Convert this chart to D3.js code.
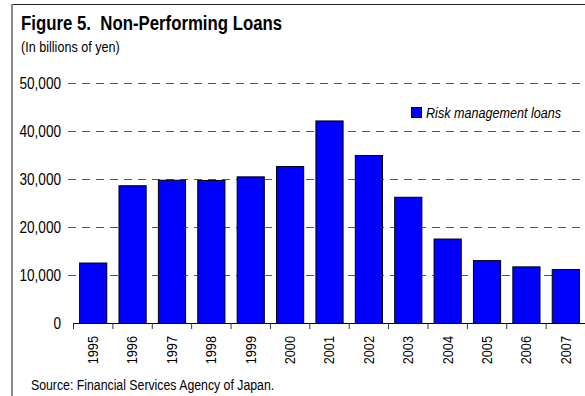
<!DOCTYPE html>
<html>
<head>
<meta charset="utf-8">
<script src="https://cdn.jsdelivr.net/npm/d3@7"></script>
<style>
  html, body { margin: 0; padding: 0; background: #fff; }
  svg { display: block; }
  text { font-family: "Liberation Sans", Arial, sans-serif; fill: #000; }
</style>
</head>
<body>
<svg id="chart" width="585" height="396"></svg>
<script>
// Non-performing loans, risk management loans, billions of yen
const years = ["1995","1996","1997","1998","1999","2000","2001","2002","2003","2004","2005","2006","2007"];
const riskLoans = [12600, 28700, 29850, 29800, 30550, 32700, 42200, 35000, 26300, 17600, 13100, 11800, 11250];
const yTicks = [0, 10000, 20000, 30000, 40000, 50000];

const titleText = "Figure 5.  Non-Performing Loans";
const subtitleText = "(In billions of yen)";
const legendText = "Risk management loans";
const sourceText = "Source: Financial Services Agency of Japan.";

const svg = d3.select("#chart");
const W = 585, H = 396;

// condensed text: a regular sans face squeezed horizontally
function label(parent, transform, str, opts) {
  const o = Object.assign({ size: 14, weight: "normal", style: "normal", anchor: "start", sx: 0.82, dy: null }, opts);
  const g = parent.append("g").attr("transform", `${transform} scale(${o.sx},1)`);
  const t = g.append("text")
    .attr("font-size", o.size)
    .attr("font-weight", o.weight)
    .attr("font-style", o.style)
    .attr("text-anchor", o.anchor)
    .style("white-space", "pre")
    .text(str);
  if (o.dy) t.attr("dy", o.dy);
  return g;
}

// outer frame: dark top rule, grey left rule
svg.append("line").attr("x1", 12).attr("x2", W).attr("y1", 4.5).attr("y2", 4.5)
  .attr("stroke", "#222").attr("stroke-width", 1.2);
svg.append("line").attr("x1", 12).attr("x2", 12).attr("y1", 4).attr("y2", H)
  .attr("stroke", "#888").attr("stroke-width", 2);

label(svg, "translate(21,30)", titleText, { size: 21, weight: "bold", sx: 0.8 });
label(svg, "translate(21,52)", subtitleText, { size: 15, sx: 0.84 });

const plot = { left: 73, right: 585, top: 83, bottom: 323 };

const x = d3.scaleBand().domain(years).range([plot.left, plot.right]).padding(0);
const y = d3.scaleLinear().domain([0, 50000]).range([plot.bottom, plot.top]);
const fmt = d3.format(",");

// dashed gridlines
svg.append("g").selectAll("line").data(yTicks.filter(d => d > 0)).join("line")
  .attr("x1", 68).attr("x2", W)
  .attr("y1", d => y(d) + 0.5).attr("y2", d => y(d) + 0.5)
  .attr("stroke", "#555").attr("stroke-width", 1)
  .attr("stroke-dasharray", "8,6");

// y-axis labels
const yLab = svg.append("g");
yTicks.forEach(d => {
  label(yLab, `translate(61,${y(d)})`, fmt(d), { size: 16, anchor: "end", sx: 0.85, dy: "0.36em" });
});

// bars
const barFrac = 0.69;
const bw = x.bandwidth() * barFrac;
svg.append("g").selectAll("rect").data(years).join("rect")
  .attr("x", d => x(d) + (x.bandwidth() - bw) / 2 + 0.5)
  .attr("y", (d, i) => y(riskLoans[i]) + 0.5)
  .attr("width", bw)
  .attr("height", (d, i) => y(0) - y(riskLoans[i]))
  .attr("fill", "#0000ff")
  .attr("stroke", "#000").attr("stroke-width", 1);

// x axis baseline and ticks at band boundaries
svg.append("line").attr("x1", plot.left).attr("x2", plot.right)
  .attr("y1", plot.bottom + 0.5).attr("y2", plot.bottom + 0.5)
  .attr("stroke", "#000").attr("stroke-width", 1.2);
svg.append("g").selectAll("line").data(years).join("line")
  .attr("x1", d => x(d) + 0.5).attr("x2", d => x(d) + 0.5)
  .attr("y1", plot.bottom).attr("y2", plot.bottom + 6)
  .attr("stroke", "#333").attr("stroke-width", 1);

// rotated year labels
const xLab = svg.append("g");
years.forEach(d => {
  label(xLab, `translate(${x(d) + x.bandwidth() / 2},336) rotate(-90)`, d,
    { size: 15, anchor: "end", sx: 0.85, dy: "0.36em" });
});

// legend
svg.append("rect").attr("x", 411.5).attr("y", 107.5).attr("width", 10).attr("height", 10)
  .attr("fill", "#0000ff").attr("stroke", "#000").attr("stroke-width", 1);
label(svg, "translate(426,118)", legendText, { size: 15, style: "italic", sx: 0.84 });

// source note
label(svg, "translate(31,390)", sourceText, { size: 15, sx: 0.82 });
</script>
</body>
</html>
